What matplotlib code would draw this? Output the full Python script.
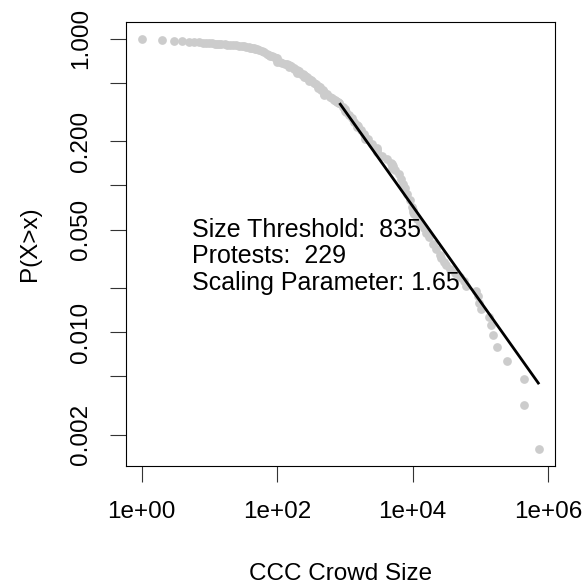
import numpy as np
import matplotlib
matplotlib.use("Agg")
import matplotlib.pyplot as plt
from matplotlib.ticker import FixedLocator, FixedFormatter, NullLocator

plt.rcParams['font.family'] = ['Liberation Sans', 'DejaVu Sans']

body_size = [1, 2, 3, 4, 5, 6, 7, 8, 9, 10, 11, 12, 13, 14, 15, 17, 18, 20, 22, 25,
             27, 30, 32, 35, 38, 40, 42, 45, 48, 50, 55, 60, 65, 70, 75, 80, 85, 90,
             95, 100, 100, 100, 110, 120, 130, 140, 150, 150, 160, 175, 180, 200, 200,
             200, 210, 225, 240, 250, 250, 260, 275, 280, 300, 300, 320, 330, 350,
             375, 400, 400, 425, 450, 475, 500, 500, 500, 550, 600, 650, 700, 725,
             750, 775, 800, 820]
body_ccdf = [1.000, 0.974, 0.969, 0.961, 0.954, 0.950, 0.944, 0.939, 0.934, 0.932,
             0.929, 0.927, 0.925, 0.922, 0.920, 0.916, 0.913, 0.910, 0.907, 0.899,
             0.896, 0.889, 0.885, 0.881, 0.874, 0.871, 0.866, 0.861, 0.855, 0.848,
             0.841, 0.828, 0.809, 0.790, 0.778, 0.766, 0.760, 0.748, 0.742, 0.736,
             0.713, 0.697, 0.691, 0.686, 0.675, 0.670, 0.660, 0.644, 0.649, 0.624,
             0.629, 0.610, 0.596, 0.582, 0.600, 0.573, 0.577, 0.564, 0.551, 0.561,
             0.542, 0.546, 0.529, 0.517, 0.521, 0.513, 0.497, 0.489, 0.474, 0.463,
             0.467, 0.449, 0.444, 0.432, 0.422, 0.412, 0.418, 0.402, 0.393, 0.384,
             0.380, 0.375, 0.373, 0.369, 0.367]

tail_size = [835, 930, 1000, 1000, 1030, 1140, 1260, 1390, 1500, 1500, 1550, 1750,
             1950, 2000, 2000, 2210, 2500, 2950, 3000, 3000, 3600, 4150, 4750, 5000,
             5000, 5180, 5600, 6240, 6700, 7150, 7700, 8190, 9100, 9800, 10000, 10000,
             10400, 11500, 12700, 14600, 16000, 17300, 20000, 21900, 25100, 26500,
             28800, 31600, 35300, 42000, 51000, 57000, 62000, 87000, 92000, 97000,
             103000, 133000, 145000, 153000, 176000, 250000, 450000, 450000, 740000]
tail_ccdf = [0.364, 0.342, 0.330, 0.322, 0.318, 0.302, 0.286, 0.270, 0.260, 0.250,
             0.254, 0.238, 0.223, 0.215, 0.208, 0.207, 0.191, 0.175, 0.180, 0.170,
             0.159, 0.151, 0.143, 0.140, 0.131, 0.135, 0.127, 0.119, 0.111, 0.103,
             0.0954, 0.0874, 0.0795, 0.0715, 0.0680, 0.0660, 0.0636, 0.0588, 0.0556,
             0.0509, 0.0477, 0.0445, 0.0397, 0.0366, 0.0334, 0.0318, 0.0302, 0.0286,
             0.0270, 0.0254, 0.0238, 0.0223, 0.0207, 0.0191, 0.0175, 0.0159, 0.0143,
             0.0127, 0.0111, 0.00954, 0.00795, 0.00636, 0.00477, 0.00318, 0.00159]

# power-law fit parameters
xmin = 835
n_tail = 229
n_total = 629
alpha = 1.65

x_ticks = [1, 1e2, 1e4, 1e6]
x_labels = ["1e+00", "1e+02", "1e+04", "1e+06"]
y_ticks = [1, 0.5, 0.2, 0.1, 0.05, 0.02, 0.01, 0.005, 0.002]
y_labels = ["1.000", "", "0.200", "", "0.050", "", "0.010", "", "0.002"]

# ---- plot ----
fig = plt.figure(figsize=(5.86, 5.85), dpi=100)
ax = fig.add_axes([0.2145, 0.2039, 0.7326, 0.7580])

xs = np.array(body_size + tail_size, dtype=float)
ys = np.array(body_ccdf + tail_ccdf, dtype=float)
ax.plot(xs, ys, 'o', color='#CCCCCC', ms=6.3, mew=0, zorder=2)

# fitted line
x_line = np.array([xmin, xs.max()])
y_line = (n_tail / n_total) * (x_line / xmin) ** (-(alpha - 1))
ax.plot(x_line, y_line, color='black', lw=2, zorder=3, solid_capstyle='butt')

ax.set_xscale('log')
ax.set_yscale('log')

# R style 4% padding on log range
lx = np.log10([xs.min(), xs.max()])
ly = np.log10([ys.min(), ys.max()])
px = 0.04 * (lx[1] - lx[0])
py = 0.04 * (ly[1] - ly[0])
ax.set_xlim(10 ** (lx[0] - px), 10 ** (lx[1] + px))
ax.set_ylim(10 ** (ly[0] - py), 10 ** (ly[1] + py))

ax.xaxis.set_major_locator(FixedLocator(x_ticks))
ax.xaxis.set_major_formatter(FixedFormatter(x_labels))
ax.yaxis.set_major_locator(FixedLocator(y_ticks))
ax.yaxis.set_major_formatter(FixedFormatter(y_labels))
ax.xaxis.set_minor_locator(NullLocator())
ax.yaxis.set_minor_locator(NullLocator())

fs = 18
ax.tick_params(axis='both', which='major', length=11.5, width=0.8, color='#333333',
               labelsize=17.5, direction='out')
ax.tick_params(axis='x', pad=14)
ax.tick_params(axis='y', pad=13)
for lab in ax.get_yticklabels():
    lab.set_rotation(90)
    lab.set_verticalalignment('center')
    lab.set_horizontalalignment('right')

for s in ax.spines.values():
    s.set_linewidth(0.8)
    s.set_color('black')

ax.set_xlabel("CCC Crowd Size", fontsize=17.5)
ax.set_ylabel("P(X>x)", fontsize=17.5)
ax.xaxis.label.set_verticalalignment('baseline')
ax.yaxis.label.set_verticalalignment('center')
ax.xaxis.set_label_coords(0.5, -0.2575)
ax.yaxis.set_label_coords(-0.2229, 0.5)

tx = 0.1537
ax.text(tx, 0.5165, "Size Threshold:  %d" % xmin, transform=ax.transAxes,
        fontsize=fs, va='baseline', ha='left')
ax.text(tx, 0.4565, "Protests:  %d" % n_tail, transform=ax.transAxes,
        fontsize=fs, va='baseline', ha='left')
ax.text(tx, 0.3963, "Scaling Parameter: %.2f" % alpha, transform=ax.transAxes,
        fontsize=fs, va='baseline', ha='left')

fig.savefig("out.png", dpi=100, facecolor='white')
